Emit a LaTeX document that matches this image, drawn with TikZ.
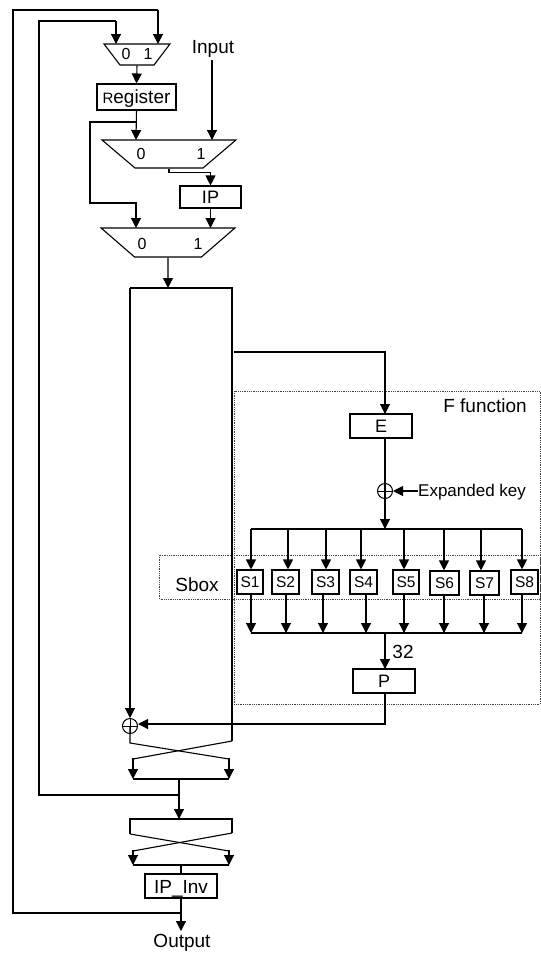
\documentclass[tikz,border=0pt]{standalone}
\usepackage{fontspec}
\setmainfont{Liberation Sans}
\usetikzlibrary{arrows.meta,shapes.geometric}
\newcommand{\txtsize}[1]{\fontsize{#1}{#1}\selectfont}
\newcommand{\muxfill}{\phantom{\rule{10pt}{10pt}}}
\tikzset{
    wire/.style={line width=1.1pt},
    region/.style={line width=0.8pt, densely dotted, black!75},
    boxnode/.style={draw, line width=1.1pt, rectangle, inner sep=0pt, font=\txtsize{18}},
    sboxnode/.style={boxnode, minimum height=24pt, font=\txtsize{15.5}},
    muxnode/.style={draw, line width=1.1pt, trapezium, shape border rotate=180, trapezium stretches=true, inner sep=0pt},
    portlabel/.style={inner sep=0pt, font=\txtsize{16}},
    textlabel/.style={inner sep=0pt, font=\txtsize{19}},
    xornode/.style={draw, line width=1pt, circle, inner sep=0pt, minimum size=15pt,
        path picture={\draw[line width=1pt] (path picture bounding box.north) -- (path picture bounding box.south)
            (path picture bounding box.west) -- (path picture bounding box.east);}}
}
\begin{document}
\begin{tikzpicture}[x=1pt, y=-1pt, >={Triangle[length=10pt,width=10pt]}]
    \useasboundingbox (0,0) rectangle (541,954);

    % 1. Dotted regions
    \draw[region] (234,391) rectangle (540,704);
    \draw[region] (159.5,555) rectangle (540,599);
    \node[textlabel] (ftitle) at (485,406) {F function};
    \node[textlabel] (sboxtitle) at (197,585) {Sbox};

    % 2. Top muxes, register and IP
    \node[muxnode, minimum width=66pt, minimum height=21pt, trapezium left angle=64.8, trapezium right angle=64.8] (muxa) at (137,54.5) {\muxfill};
    \node[portlabel] (muxazero) at (126,54) {0};
    \node[portlabel] (muxaone) at (148,54) {1};
    \node[boxnode, minimum width=79pt, minimum height=26pt, font=\txtsize{19}, text height=12pt, text depth=0pt] (register) at (136.5,97) {{\txtsize{15}R}egister};
    \node[textlabel] (input) at (213,48.5) {Input};
    \node[muxnode, minimum width=134pt, minimum height=28pt, trapezium left angle=64.1, trapezium right angle=64.1] (muxb) at (169,154) {\muxfill};
    \node[portlabel] (muxbzero) at (141,154) {0};
    \node[portlabel] (muxbone) at (201,154) {1};
    \node[boxnode, minimum width=61pt, minimum height=22pt] (ipbox) at (210.5,197) {IP};
    \node[muxnode, minimum width=134pt, minimum height=29pt, trapezium left angle=63.4, trapezium right angle=63.4] (muxc) at (168,242.5) {\muxfill};
    \node[portlabel] (muxczero) at (142,244) {0};
    \node[portlabel] (muxcone) at (198,244) {1};

    \draw[->, wire] (muxa.south) -- (register.north);
    \draw[->, wire] (register.south) -- (136,140);
    \draw[->, wire] (136,122) -- (90,122) -- (90,203) -- (136,203) -- (136,228);
    \draw[->, wire] (212,60) -- (212,140);
    \draw[->, wire] (muxb.south) -- ++(0,4) -| (ipbox.north);
    \draw[->, wire] (ipbox.south) -- (210.5,228);

    % 3. Round registers
    \coordinate (roundl) at (130,288);
    \coordinate (roundr) at (232,288);
    \draw[->, wire] (muxc.south) -- (168,288);
    \draw[wire] (roundl) -- (roundr) -- (232,741);

    % 4. F function
    \node[boxnode, minimum width=62pt, minimum height=24pt] (ebox) at (381,426) {E};
    \node[xornode] (xorkey) at (385,491) {};
    \node[inner sep=0pt, anchor=west, font=\txtsize{17}] (keytext) at (418,492) {Expanded key};
    \node[boxnode, minimum width=62pt, minimum height=24pt] (pbox) at (384,681) {P};
    \node[textlabel] (buswidth) at (403,652) {32};

    \draw[->, wire] (234,352) -| (385,414);
    \draw[wire] (385,438) -- (xorkey.center);
    \draw[->, wire] (keytext.west |- xorkey.east) -- (xorkey.east);
    \draw[->, wire] (xorkey.center) -- (385,529);

    % 5. S boxes: number/center/width/y/in/out
    \foreach \n/\cx/\bw/\cy/\tx/\bx in {1/250/26/582/251/251, 2/285.5/27/582/288/286,
        3/325.5/27/582/326/323, 4/363.5/27/582/361/366, 5/406/26/582/404/404,
        6/444.5/29/583/444/444, 7/484.5/29/583/481/484, 8/524.5/27/582/522/522} {
        \node[sboxnode, minimum width=\bw pt] (s\n) at (\cx,\cy) {S\n};
        \coordinate (busin\n) at (\tx,529);
        \coordinate (busout\n) at (\bx,633);
        \draw[->, wire] (busin\n) -- (busin\n |- s\n.north);
        \draw[->, wire] (busout\n |- s\n.south) -- (busout\n);
    }
    \draw[wire] (busin1) -- (busin8);
    \draw[wire] (busout1) -- (busout8);
    \draw[->, wire] (385,633) -- (385,669);

    % 6. Swap stages and output
    \node[xornode] (xorround) at (130,726) {};
    \draw[->, wire] (roundl) -- (xorround.north);
    \draw[->, wire] (385,693) -- (385,724) -- (138,724);

    \draw[wire] (xorround.center) -- (130,743) -- (229,759);
    \draw[->, wire] (229,758) -- (229,779);
    \draw[wire] (232,741) -- (133,759);
    \draw[->, wire] (133,758) -- (133,779);
    \draw[wire] (133,779) -- (229,779);

    \draw[->, wire] (179,779) -- (179,819);
    \draw[wire] (130,834) -- (130,819) -- (232,819) -- (232,833);
    \draw[wire] (130,834) -- (229,851);
    \draw[->, wire] (229,850) -- (229,865);
    \draw[wire] (232,833) -- (133,851);
    \draw[->, wire] (133,850) -- (133,865);
    \draw[wire] (133,865) -- (229,865);

    \node[boxnode, minimum width=72pt, minimum height=24pt, font=\txtsize{19}, text height=15pt, text depth=0pt] (ipinv) at (181,886) {IP\_Inv};
    \node[textlabel] (output) at (182,943) {Output};
    \coordinate (outtip) at (181,931);
    \draw[wire] (181,865) -- (ipinv.north);
    \draw[->, wire] (ipinv.south) -- (outtip);

    % 7. Feedback paths
    \draw[wire] (179,795) -- (39,795) -- (39,21) -- (116,21);
    \draw[->, wire] (116,21) -- (116,44);
    \draw[wire] (181,913) -- (13,913) -- (13,10) -- (158,10);
    \draw[->, wire] (158,10) -- (158,44);

\end{tikzpicture}
\end{document}
